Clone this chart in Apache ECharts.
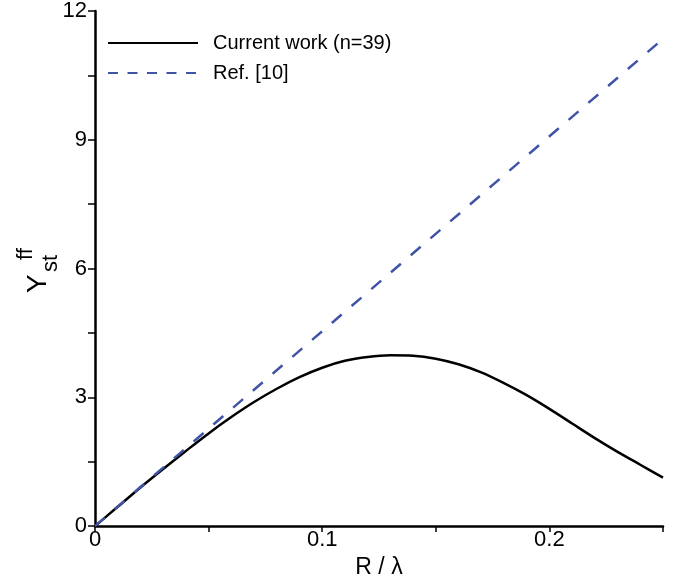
<!DOCTYPE html>
<html>
<head>
<meta charset="utf-8">
<script src="https://cdn.jsdelivr.net/npm/echarts@6/dist/echarts.min.js"></script>
<style>html,body{margin:0;padding:0;background:#fff}#c{width:676px;height:584px}</style>
</head>
<body>
<div id="c"></div>
<script>
var xCurrent = [0, 0.01, 0.02, 0.03, 0.04, 0.05, 0.06, 0.07, 0.08, 0.09, 0.10, 0.11, 0.12, 0.13, 0.14, 0.15, 0.16, 0.17, 0.18, 0.19, 0.20, 0.21, 0.22, 0.23, 0.24, 0.25];
var yCurrent = [0, 0.45, 0.90, 1.33, 1.75, 2.16, 2.54, 2.89, 3.20, 3.47, 3.69, 3.85, 3.94, 3.98, 3.97, 3.90, 3.77, 3.58, 3.33, 3.05, 2.73, 2.39, 2.05, 1.73, 1.43, 1.13];
var xRef = [0, 0.25];
var yRef = [0, 11.35];
var seriesNames = ['Current work (n=39)', 'Ref. [10]'];
var xLabelValues = [0, 0.1, 0.2];
var yLabelValues = [0, 3, 6, 9, 12];

function pairs(xs, ys) { return xs.map(function (x, i) { return [x, ys[i]]; }); }

var FONT = 'Liberation Sans, Arial, Helvetica, sans-serif';
var chart = echarts.init(document.getElementById('c'), null, {renderer: 'canvas'});
chart.setOption({
  animation: false,
  backgroundColor: '#fff',
  grid: {left: 95, right: 13, top: 11, bottom: 55, containLabel: false},
  legend: {
    orient: 'vertical', left: 102, top: 28,
    itemWidth: 90, itemHeight: 14, itemGap: 10,
    itemStyle: {color: 'rgba(0,0,0,0)', borderWidth: 0, opacity: 0},
    textStyle: {fontFamily: FONT, fontSize: 20, color: '#000', padding: [0, 0, 0, 10]},
    data: [
      {name: seriesNames[0]},
      {name: seriesNames[1], lineStyle: {type: [10, 9.5]}}
    ]
  },
  xAxis: {
    type: 'value', min: 0, max: 0.25, interval: 0.05,
    name: 'R / λ', nameLocation: 'middle', nameGap: 19,
    nameTextStyle: {fontFamily: FONT, fontSize: 23, color: '#000'},
    axisLine: {show: true, onZero: false, lineStyle: {color: '#000', width: 2.5}},
    axisTick: {show: true, length: 6, lineStyle: {color: '#000', width: 1.5}},
    axisLabel: {
      fontFamily: FONT, fontSize: 22, color: '#000', margin: 3,
      formatter: function (v) {
        for (var i = 0; i < xLabelValues.length; i++) {
          if (Math.abs(v - xLabelValues[i]) < 1e-9) return String(xLabelValues[i]);
        }
        return '';
      }
    },
    splitLine: {show: false}
  },
  yAxis: {
    type: 'value', min: 0, max: 12, interval: 3,
    axisLine: {show: true, onZero: false, lineStyle: {color: '#000', width: 2.5}},
    axisTick: {show: true, length: 7, lineStyle: {color: '#000', width: 1.5}},
    minorTick: {show: true, splitNumber: 2, length: 7, lineStyle: {color: '#000', width: 1.5}},
    axisLabel: {
      fontFamily: FONT, fontSize: 22, color: '#000', margin: 8,
      formatter: function (v) {
        return yLabelValues.indexOf(v) >= 0 ? String(v) : '';
      }
    },
    splitLine: {show: false}
  },
  series: [
    {
      name: seriesNames[0], type: 'line', data: pairs(xCurrent, yCurrent),
      showSymbol: false, symbol: 'none', smooth: 0.3,
      lineStyle: {color: '#000', width: 2.5}, itemStyle: {color: '#000'}
    },
    {
      name: seriesNames[1], type: 'line', data: pairs(xRef, yRef),
      showSymbol: false, symbol: 'none',
      lineStyle: {color: '#3f54a6', width: 2.5, type: [13, 13]}, itemStyle: {color: '#3f54a6'}
    }
  ],
  graphic: [{
    type: 'group', x: 38, y: 293, rotation: Math.PI / 2,
    children: [
      {type: 'text', x: 0, y: 0, style: {text: 'Y', fontFamily: FONT, fontSize: 28, fill: '#000', verticalAlign: 'middle', align: 'left'}},
      {type: 'text', x: 21, y: 13, style: {text: 'st', fontFamily: FONT, fontSize: 22, fill: '#000', verticalAlign: 'middle', align: 'left'}},
      {type: 'text', x: 33, y: -12, style: {text: 'ff', fontFamily: FONT, fontSize: 22, fill: '#000', verticalAlign: 'middle', align: 'left'}}
    ]
  }]
});
</script>
</body>
</html>
